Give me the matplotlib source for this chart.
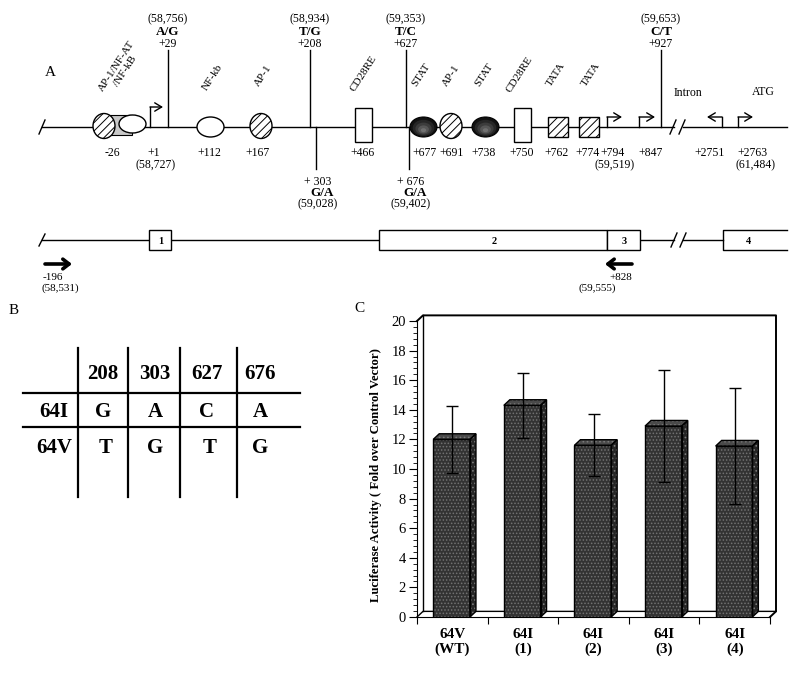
import numpy as np
import matplotlib
matplotlib.use('Agg')
import matplotlib.pyplot as plt
from matplotlib.patches import Ellipse, Rectangle, Polygon

plt.rcParams['font.family'] = ['Liberation Serif', 'DejaVu Serif']
plt.rcParams['hatch.linewidth'] = 0.7

# ---- panel A: promoter map ----
site_labels = ['-26', '+1', '+112', '+167', '+466', '+677', '+691', '+738',
               '+750', '+762', '+774', '+794', '+847', '+2751', '+2763']
site_coords = ['', '(58,727)', '', '', '', '', '', '', '', '', '', '(59,519)', '', '', '(61,484)']
factor_names = ['AP-1/NF-AT\n/NF-kB', 'NF-kb', 'AP-1', 'CD28RE', 'STAT', 'AP-1',
                'STAT', 'CD28RE', 'TATA', 'TATA']
snp_pos = ['+29', '+208', '+627', '+927', '+ 303', '+ 676']
snp_allele = ['A/G', 'T/G', 'T/C', 'C/T', 'G/A', 'G/A']
snp_coord = ['(58,756)', '(58,934)', '(59,353)', '(59,653)', '(59,028)', '(59,402)']
snp_above = [True, True, True, True, False, False]

# layout (pixels) for the schematic
site_x = [112, 154, 209, 258, 363, 425, 452, 484, 522, 557, 588, 613, 651, 710, 753]
factor_xy = [(121, 69), (213, 77), (263, 76), (364, 74), (421, 75), (451, 76),
             (484, 75), (520, 75), (556, 75), (591, 75)]
snp_x = [168, 310, 406, 661, 318, 411]
snp_line_x = [168, 310, 406, 661, 316, 409]

# ---- panel B: SNP table ----
snp_cols = ['208', '303', '627', '676']
row_names = ['64I', '64V']
allele_64I = ['G', 'A', 'C', 'A']
allele_64V = ['T', 'G', 'T', 'G']

# ---- panel C: luciferase ----
constructs = ['64V\n(WT)', '64I\n(1)', '64I\n(2)', '64I\n(3)', '64I\n(4)']
activity = [12.0, 14.3, 11.6, 12.9, 11.55]
activity_sd = [2.25, 2.2, 2.1, 3.8, 3.9]

fig = plt.figure(figsize=(8, 6.73), dpi=100)
ax0 = fig.add_axes([0, 0, 1, 1])
ax0.set_xlim(0, 800)
ax0.set_ylim(673, 0)
ax0.axis('off')

LY = 127
ax0.plot([39, 45], [134, 120], 'k-', lw=1)
ax0.plot([42, 674], [LY, LY], 'k-', lw=1)
ax0.plot([683, 787], [LY, LY], 'k-', lw=1)
ax0.plot([670, 676], [134, 120], 'k-', lw=1)
ax0.plot([679, 685], [134, 120], 'k-', lw=1)

# binding site shapes
ax0.add_patch(Rectangle((107, 115), 25, 20, fc='#c8c8c8', ec='k', lw=0.8, zorder=2))
for cx in [104, 261, 451]:
    ax0.add_patch(Ellipse((cx, 126), 22, 25, fc='white', ec='k', lw=1, hatch='////', zorder=3))
for cx, cy, w, h in [(132.5, 124, 27, 18), (210.5, 127, 27, 20)]:
    ax0.add_patch(Ellipse((cx, cy), w, h, fc='white', ec='k', lw=1, zorder=3))
for cx in [423.5, 485.5]:
    for s, c in [(1.0, '#111111'), (0.8, '#262626'), (0.6, '#3c3c3c'), (0.4, '#565656'), (0.2, '#707070')]:
        ax0.add_patch(Ellipse((cx, 127 + (1 - s) * 4), 27 * s, 20 * s, fc=c,
                              ec='k' if s == 1.0 else 'none', lw=0.8, zorder=3))
for rx in [355, 514]:
    ax0.add_patch(Rectangle((rx, 108), 17, 34, fc='white', ec='k', lw=1, zorder=3))
for rx in [548, 579]:
    ax0.add_patch(Rectangle((rx, 117), 20, 20, fc='white', ec='k', lw=1, hatch='////', zorder=3))

# transcription start arrows
for x0, top, x1 in [(150, 107, 163), (607, 117, 622), (639, 117, 655), (722, 117, 707), (738, 117, 753)]:
    ax0.plot([x0, x0], [LY, top], 'k-', lw=1)
    ax0.annotate('', xy=(x1, top), xytext=(x0, top),
                 arrowprops=dict(arrowstyle='->,head_length=0.5,head_width=0.3', lw=1,
                                 shrinkA=0, shrinkB=0))

# site labels under the line
for lab, crd, x in zip(site_labels, site_coords, site_x):
    ax0.text(x, 153, lab, ha='center', va='center', fontsize=8.5)
    if crd:
        ax0.text(x + 2, 165, crd, ha='center', va='center', fontsize=8.5)

for name, (x, y) in zip(factor_names, factor_xy):
    ax0.text(x, y, name, ha='center', va='center', rotation=57, fontsize=8,
             linespacing=1.15)

# SNPs
for pos, al, crd, up, x, lx in zip(snp_pos, snp_allele, snp_coord, snp_above, snp_x, snp_line_x):
    if up:
        ax0.plot([lx, lx], [LY, 50], 'k-', lw=1)
        ax0.text(x, 44, pos, ha='center', va='center', fontsize=8.5)
        ax0.text(x, 32, al, ha='center', va='center', fontsize=9.5, fontweight='bold')
        ax0.text(x, 19, crd, ha='center', va='center', fontsize=8.5)
    else:
        ax0.plot([lx, lx], [LY, 169], 'k-', lw=1)
        ax0.text(x, 182, pos, ha='center', va='center', fontsize=8.5)
        ax0.text(x + 4, 193, al, ha='center', va='center', fontsize=9.5, fontweight='bold')
        ax0.text(x, 204, crd, ha='center', va='center', fontsize=8.5)

ax0.text(688, 93, 'Intron', ha='center', va='center', fontsize=8.5)
ax0.text(763, 92, 'ATG', ha='center', va='center', fontsize=8.5)
ax0.text(50, 72, 'A', ha='center', va='center', fontsize=11)

# gene structure
GY = 240
ax0.plot([39, 45], [246, 234], 'k-', lw=1)
ax0.plot([42, 379], [GY, GY], 'k-', lw=1)
ax0.plot([640, 674], [GY, GY], 'k-', lw=1)
ax0.plot([683, 723], [GY, GY], 'k-', lw=1)
ax0.plot([671, 677], [247, 233], 'k-', lw=1)
ax0.plot([680, 686], [247, 233], 'k-', lw=1)
for x0, x1, lab in [(149, 171, '1'), (379, 607, '2'), (607, 640, '3')]:
    ax0.add_patch(Rectangle((x0, 230), x1 - x0, 20, fc='white', ec='k', lw=1, zorder=3))
    ax0.text((x0 + x1) / 2 + 1, 241, lab, ha='center', va='center', fontsize=7.5,
             fontweight='bold', zorder=4)
ax0.plot([787, 723, 723, 787], [230, 230, 250, 250], 'k-', lw=1)
ax0.text(748, 241, '4', ha='center', va='center', fontsize=7.5, fontweight='bold')

primer = dict(arrowstyle='->,head_length=0.45,head_width=0.35', lw=2.6, shrinkA=0, shrinkB=0)
ax0.annotate('', xy=(72, 264), xytext=(45, 264), arrowprops=primer)
ax0.annotate('', xy=(605, 264), xytext=(632, 264), arrowprops=primer)
ax0.text(43, 277, '-196', ha='left', va='center', fontsize=8)
ax0.text(42, 288, '(58,531)', ha='left', va='center', fontsize=8)
ax0.text(621, 277, '+828', ha='center', va='center', fontsize=8)
ax0.text(597, 288, '(59,555)', ha='center', va='center', fontsize=8)

# panel B table
ax0.text(14, 310, 'B', ha='center', va='center', fontsize=11)
for vx in [78, 128, 180, 237]:
    ax0.plot([vx, vx], [348, 497], 'k-', lw=1.6)
for hy in [393, 427]:
    ax0.plot([23, 300], [hy, hy], 'k-', lw=1.6)
col_x = [103, 155, 207, 260]
for txt, x in zip(snp_cols, col_x):
    ax0.text(x, 374, txt, ha='center', va='center', fontsize=15, fontweight='bold')
for rname, alle, y in zip(row_names, [allele_64I, allele_64V], [412, 448]):
    ax0.text(54, y, rname, ha='center', va='center', fontsize=15, fontweight='bold')
    for a, x in zip(alle, col_x):
        ax0.text(x + (3 if y == 448 and a == 'T' else 0), y, a, ha='center', va='center',
                 fontsize=15, fontweight='bold')

# panel C bars
ax0.text(359, 309, 'C', ha='center', va='center', fontsize=11)
axb = fig.add_axes([417 / 800, (673 - 617) / 673, 353 / 800, 296 / 673])
axb.patch.set_visible(False)
axb.set_xlim(0, 5)
axb.set_ylim(0, 20)
ddx, ddy = 0.085, 0.38
n = len(activity)
xc = np.arange(n) + 0.49
bw = 0.52

kw = dict(color='k', lw=1, clip_on=False, zorder=1)
axb.plot([0, ddx, 5 + ddx, 5 + ddx, 5], [20, 20 + ddy, 20 + ddy, ddy, 0], lw=1.4,
         color='k', clip_on=False, zorder=1)
axb.plot([ddx, ddx], [ddy, 20 + ddy], **kw)
axb.plot([0, ddx, 5 + ddx], [0, ddy, ddy], **kw)

axb.bar(xc, activity, width=bw, color='#333333', edgecolor='#727272', hatch='.....',
        linewidth=0, zorder=3)
axb.bar(xc, activity, width=bw, fill=False, edgecolor='k', linewidth=1, zorder=3.5)
for x, h in zip(xc, activity):
    l, r = x - bw / 2, x + bw / 2
    top = [(l, h), (l + ddx, h + ddy), (r + ddx, h + ddy), (r, h)]
    side = [(r, 0), (r + ddx, ddy), (r + ddx, h + ddy), (r, h)]
    for pts, c in [(top, '#4a4a4a'), (side, '#262626')]:
        axb.add_patch(Polygon(pts, closed=True, fc=c, ec='#7a7a7a', hatch='....',
                              lw=0, zorder=3, clip_on=False))
        axb.add_patch(Polygon(pts, closed=True, fill=False, ec='k', lw=1, zorder=3.5,
                              clip_on=False))
axb.errorbar(xc + 0.01, activity, yerr=activity_sd, fmt='none', ecolor='k', elinewidth=1,
             capsize=4, capthick=1, zorder=5)

for s in ['top', 'right']:
    axb.spines[s].set_visible(False)
axb.set_yticks(np.arange(0, 21, 2))
axb.set_yticks(np.arange(0, 20.01, 0.4), minor=True)
axb.set_xticks(np.arange(0, 6))
axb.set_xticklabels([])
axb.set_xticks(np.arange(n) + 0.5, labels=constructs, minor=True)
axb.tick_params(axis='y', which='major', direction='out', length=6, labelsize=10.5, pad=2)
axb.tick_params(axis='y', which='minor', direction='out', length=3)
axb.tick_params(axis='x', which='major', direction='out', length=5)
axb.tick_params(axis='x', which='minor', length=0, labelsize=11, pad=8)
for lab in axb.get_xticklabels(minor=True):
    lab.set_fontweight('bold')
    lab.set_linespacing(1.1)
axb.set_ylabel('Luciferase Activity ( Fold over Control Vector)', fontsize=9.2,
               fontweight='bold')
axb.yaxis.set_label_coords(-0.099, 0.48)

fig.savefig('out.png', dpi=100)
